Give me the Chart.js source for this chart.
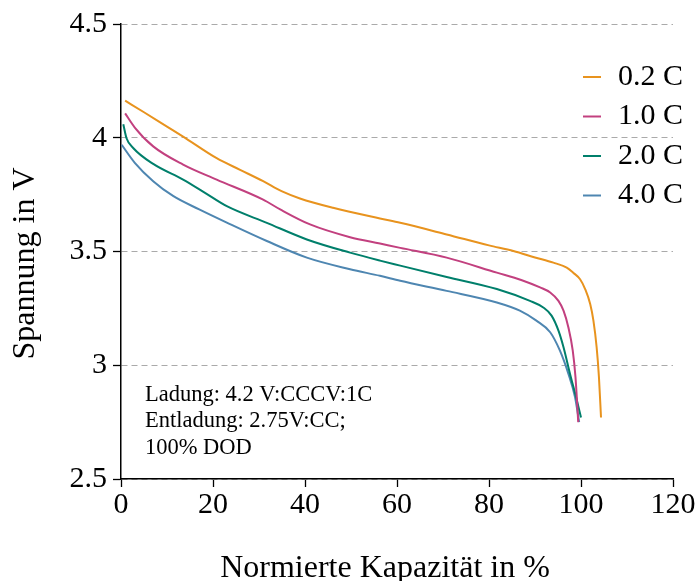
<!DOCTYPE html>
<html>
<head>
<meta charset="utf-8">
<script src="https://cdn.jsdelivr.net/npm/chart.js@4"></script>
<style>
  body { margin: 0; background: #fff; }
  #wrap { width: 698px; height: 581px; }
</style>
</head>
<body>
<div id="wrap"><canvas id="chart"></canvas></div>
<script>
// ======= DATA =======
const seriesLabels = ["0.2 C", "1.0 C", "2.0 C", "4.0 C"];
const seriesColors = ["#e8931e", "#c2407f", "#007f6b", "#4e86b1"];

const cap02 = [0.9, 5, 10, 13.5, 20.8, 26, 30.9, 34.9, 38.9, 46.1, 56.3, 60.7, 70.8, 80, 85.3, 90, 94, 96.9, 98.3, 99.8, 100.9, 102, 102.7, 103.4, 103.9, 104.35];
const volt02 = [4.163, 4.112, 4.049, 4.005, 3.91, 3.858, 3.809, 3.765, 3.733, 3.692, 3.645, 3.626, 3.575, 3.527, 3.502, 3.474, 3.451, 3.429, 3.407, 3.378, 3.335, 3.269, 3.196, 3.079, 2.948, 2.77];

const cap10 = [0.9, 3, 7, 13.5, 20.8, 30.9, 34.6, 41.1, 49.8, 56.3, 60.7, 70.8, 81.7, 87, 91.1, 93.3, 95.1, 96.2, 97.25, 98.2, 98.8, 99.4];
const volt10 = [4.107, 4.045, 3.962, 3.882, 3.816, 3.728, 3.685, 3.619, 3.563, 3.535, 3.516, 3.473, 3.407, 3.375, 3.342, 3.32, 3.283, 3.24, 3.167, 3.065, 2.948, 2.75];

const cap20 = [0.5, 1.2, 2.7, 7, 13.5, 18, 23, 31.7, 40.4, 49.8, 56.3, 60.7, 70.8, 81.7, 88.9, 91.8, 93.6, 95.1, 96.2, 97.6, 99.1, 100];
const volt20 = [4.059, 3.998, 3.954, 3.885, 3.816, 3.761, 3.699, 3.626, 3.553, 3.495, 3.46, 3.438, 3.388, 3.335, 3.283, 3.254, 3.218, 3.152, 3.079, 2.963, 2.846, 2.77];

const cap40 = [0.15, 3, 7, 11.4, 17, 23, 31.7, 40.4, 49.8, 56.3, 60.7, 70.8, 81.7, 86.7, 90.3, 93.3, 95.4, 97.25, 98.7, 99.6];
const volt40 = [3.969, 3.89, 3.809, 3.743, 3.685, 3.627, 3.546, 3.473, 3.422, 3.393, 3.371, 3.327, 3.276, 3.24, 3.196, 3.145, 3.065, 2.963, 2.86, 2.75];

const xTicks = [0, 20, 40, 60, 80, 100, 120];
const yTicks = [2.5, 3, 3.5, 4, 4.5];
const noteLines = ["Ladung: 4.2 V:CCCV:1C", "Entladung: 2.75V:CC;", "100% DOD"];

// ======= CHART =======
const SERIF = "'Liberation Serif', 'Times New Roman', serif";
const caps = [cap02, cap10, cap20, cap40];
const volts = [volt02, volt10, volt20, volt40];
const nb = "\u00A0\u00A0\u00A0"; // nudges centred titles like the reference

const datasets = seriesLabels.map((label, i) => ({
  label,
  data: caps[i].map((x, k) => ({ x, y: volts[i][k] })),
  borderColor: seriesColors[i],
  backgroundColor: seriesColors[i],
  borderWidth: 2,
  pointRadius: 0,
  fill: false,
  cubicInterpolationMode: "monotone",
}));

// legend + note drawn inside the plot area
const overlay = {
  id: "overlay",
  afterDraw(chart) {
    const { ctx, chartArea } = chart;
    ctx.save();
    ctx.textBaseline = "middle";
    ctx.fillStyle = "#000";
    ctx.font = "30px " + SERIF;
    chart.data.datasets.forEach((ds, i) => {
      const y = chartArea.top + 53 + i * 39.5;
      ctx.strokeStyle = ds.borderColor;
      ctx.lineWidth = 2;
      ctx.beginPath();
      ctx.moveTo(chartArea.right - 90, y);
      ctx.lineTo(chartArea.right - 72, y);
      ctx.stroke();
      ctx.fillText(ds.label, chartArea.right - 55, y);
    });
    ctx.font = "22.5px " + SERIF;
    noteLines.forEach((t, i) => {
      ctx.fillText(t, chartArea.left + 24, chartArea.bottom - 84 + i * 26.5);
    });
    ctx.restore();
  },
};

new Chart(document.getElementById("chart"), {
  type: "line",
  data: { datasets },
  plugins: [overlay],
  options: {
    responsive: true,
    maintainAspectRatio: false,
    animation: false,
    layout: { padding: { top: 22, right: 25, left: 0, bottom: 0 } },
    plugins: { legend: { display: false }, tooltip: { enabled: false } },
    scales: {
      x: {
        type: "linear",
        min: 0,
        max: 120,
        afterBuildTicks: (s) => { s.ticks = xTicks.map((v) => ({ value: v })); },
        afterFit: (s) => { s.height = 102; },
        ticks: { color: "#000", padding: 0, maxRotation: 0, font: { family: SERIF, size: 30 } },
        grid: { drawOnChartArea: false, drawTicks: true, tickLength: 8, tickColor: "#000", tickWidth: 1.3 },
        border: { color: "#000", width: 1.5 },
        title: {
          display: true,
          text: "Normierte Kapazität in %" + nb,
          color: "#000",
          font: { family: SERIF, size: 32, lineHeight: 1 },
          padding: { top: 0, bottom: -4 },
        },
      },
      y: {
        min: 2.5,
        max: 4.5,
        afterBuildTicks: (s) => { s.ticks = yTicks.map((v) => ({ value: v })); },
        afterFit: (s) => { s.width = 121; },
        ticks: {
          color: "#000",
          padding: 6,
          font: { family: SERIF, size: 30 },
          callback: (v) => String(v),
        },
        grid: {
          color: "#aaaaaa",
          lineWidth: 1,
          drawTicks: true,
          tickLength: 8,
          tickColor: "#000",
          tickWidth: 1.3,
        },
        border: { color: "#000", width: 1.5, dash: [6, 4] },
        title: {
          display: true,
          text: "Spannung in V" + nb,
          color: "#000",
          font: { family: SERIF, size: 32 },
          padding: { top: 6, bottom: 0 },
        },
      },
    },
  },
});
</script>
</body>
</html>
